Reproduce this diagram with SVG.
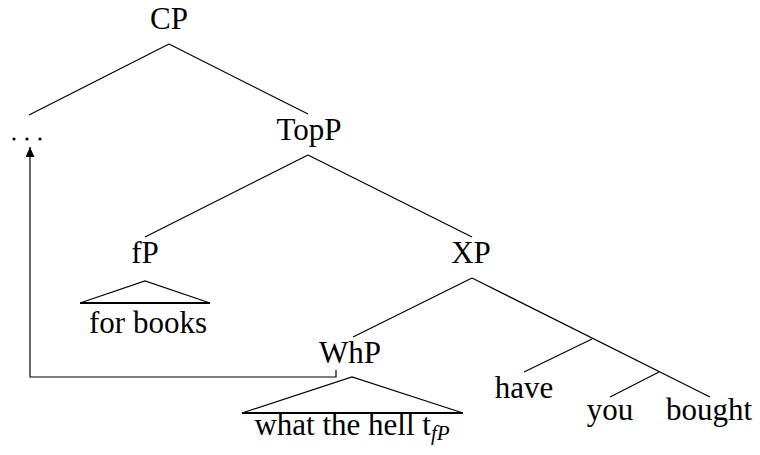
<svg xmlns="http://www.w3.org/2000/svg" width="760" height="455" viewBox="0 0 760 455">
<style>
.t{font-size:31px;fill:#000;text-anchor:middle}
.e{stroke:#000;stroke-width:1.2;fill:none}
.b{stroke:#000;stroke-width:2.2}
.sub{font-size:21px;font-style:italic}
</style>
<defs>
<marker id="ah" markerWidth="10" markerHeight="9" refX="10" refY="4.5" orient="auto" markerUnits="userSpaceOnUse" viewBox="0 0 10 9">
<path d="M0,0 L10,4.5 L0,9 Z" fill="#000"/>
</marker>
</defs>
<rect width="760" height="455" fill="#fff"/>
<g id="connectors">
<path class="e" d="M169,44 L29,115 M169,44 L308,114"/>
<path class="e" d="M308,155 L145,237 M308,155 L472,237"/>
<path class="e" d="M472,278 L353,337 M472,278 L710,397"/>
<path class="e" d="M592,339 L524,372 M659,372 L610,397"/>
<path class="e" d="M336,370 V377 H30 V147" marker-end="url(#ah)"/>
</g>
<g id="CP"><text class="t" font-family="Liberation Serif" x="169" y="29">CP</text></g>
<g id="dots">
<circle cx="14" cy="139" r="1.6"/><circle cx="27" cy="139" r="1.6"/><circle cx="40" cy="139" r="1.6"/>
</g>
<g id="TopP"><text class="t" font-family="Liberation Serif" x="309" y="140">TopP</text></g>
<g id="fP">
<text class="t" font-family="Liberation Serif" x="145" y="263">fP</text>
<path class="e" d="M80,303 L145,281 L210,303"/>
<line class="b" x1="80" y1="303" x2="210" y2="303"/>
<text class="t" font-family="Liberation Serif" x="148" y="333">for books</text>
</g>
<g id="XP"><text class="t" font-family="Liberation Serif" x="471" y="263">XP</text></g>
<g id="WhP">
<text class="t" font-family="Liberation Serif" x="350" y="363">WhP</text>
<path class="e" d="M242,413 L352,377 L463,413"/>
<line class="b" x1="242" y1="413" x2="463" y2="413"/>
<text class="t" font-family="Liberation Serif" x="352" y="435">what the hell t<tspan class="sub" dy="5">fP</tspan></text>
</g>
<g id="have"><text class="t" font-family="Liberation Serif" x="524" y="398">have</text></g>
<g id="you"><text class="t" font-family="Liberation Serif" x="610" y="420">you</text></g>
<g id="bought"><text class="t" font-family="Liberation Serif" x="709" y="420">bought</text></g>
</svg>
